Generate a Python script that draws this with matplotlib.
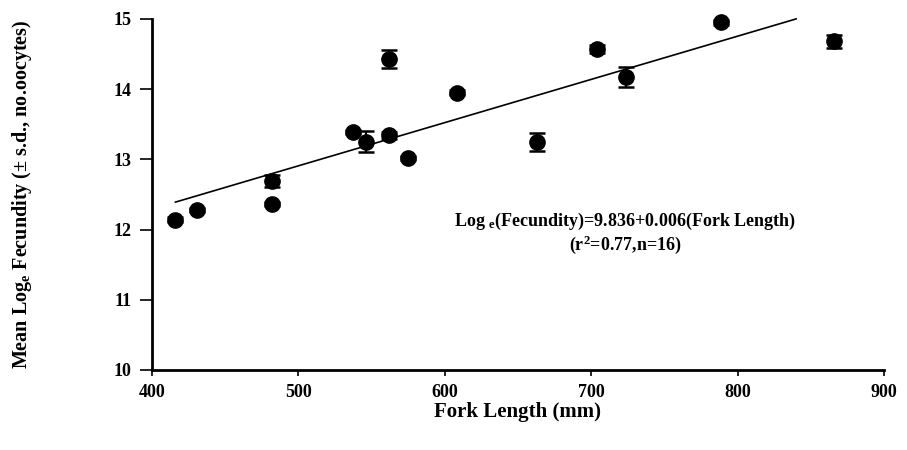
import matplotlib.pyplot as plt
import numpy as np

# Values
fork_length = [416, 431, 482, 482, 537, 546, 562, 562, 575, 608, 663, 704, 724, 789, 866]
log_fecundity = [12.14, 12.28, 12.69, 12.36, 13.39, 13.25, 14.43, 13.34, 13.02, 13.95, 13.25, 14.57, 14.17, 14.95, 14.68]
sd = [0.04, 0.03, 0.09, 0.03, 0.03, 0.15, 0.13, 0.05, 0.03, 0.04, 0.13, 0.06, 0.14, 0.04, 0.09]

# regression line endpoints as drawn
line_x = [416, 840]
line_y = [12.39, 15.0]

plt.rcParams['font.family'] = ['Liberation Serif', 'DejaVu Serif']
plt.rcParams['font.weight'] = 'bold'
plt.rcParams['mathtext.fontset'] = 'custom'
plt.rcParams['mathtext.rm'] = 'Liberation Serif:bold'
plt.rcParams['mathtext.bf'] = 'Liberation Serif:bold'
plt.rcParams['mathtext.it'] = 'Liberation Serif:bold'

fig = plt.figure(figsize=(9.07, 4.5), dpi=100)
ax = fig.add_axes([0.1676, 0.178, 0.807, 0.78])

ax.plot(line_x, line_y, color='black', lw=1.2, clip_on=False)
ax.errorbar(fork_length, log_fecundity, yerr=sd, fmt='o', color='black',
            markersize=11, capsize=6, elinewidth=1.5, capthick=1.8, clip_on=False)

ax.set_xlim(400, 900)
ax.set_ylim(10, 15)
ax.set_xticks(np.arange(400, 901, 100))
ax.set_yticks(np.arange(10, 16, 1))

for s in ['top', 'right']:
    ax.spines[s].set_visible(False)
for s in ['left', 'bottom']:
    ax.spines[s].set_linewidth(2)

ax.tick_params(axis='y', direction='out', length=9, width=1.2, labelsize=13, pad=6)
ax.tick_params(axis='x', direction='out', length=4, width=1.2, labelsize=13, pad=6)
for lab in ax.get_xticklabels() + ax.get_yticklabels():
    lab.set_fontweight('bold')

ax.set_xlabel('Fork Length (mm)', fontsize=15, fontweight='bold', labelpad=1)
ax.set_ylabel(r'Mean Log$_{\mathrm{e}}$ Fecundity (± s.d., no.oocytes)', fontsize=14.5,
              fontweight='bold', labelpad=57)

ax.text(723, 12.11, r'Log $_{\mathrm{e}}$(Fecundity)=9.836+0.006(Fork Length)',
        ha='center', va='center', fontsize=13, fontweight='bold')
ax.text(723, 11.78, r'(r$^{2}$=0.77,n=16)', ha='center', va='center',
        fontsize=13, fontweight='bold')

plt.savefig('out.png', dpi=100)
